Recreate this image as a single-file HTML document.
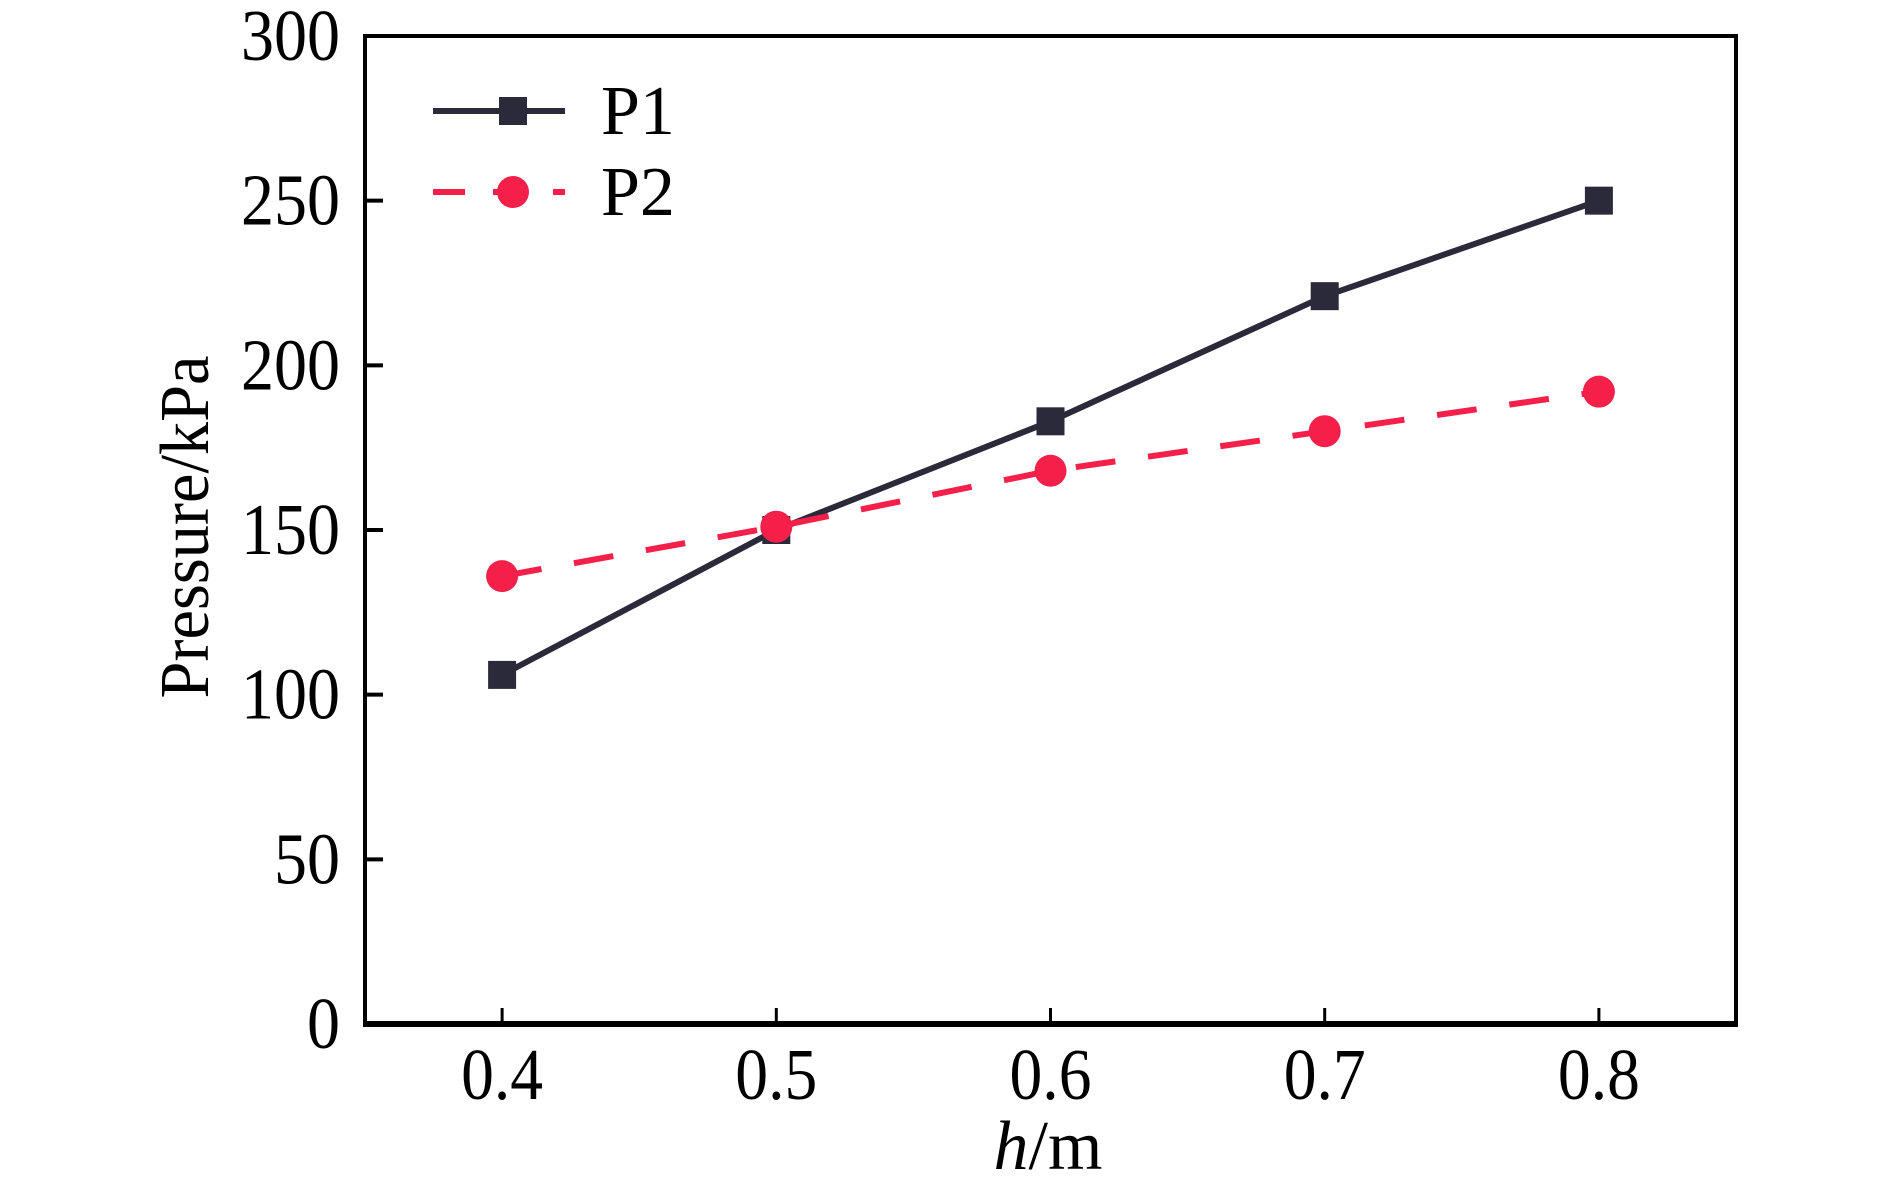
<!DOCTYPE html>
<html><head><meta charset="utf-8"><style>
html,body{margin:0;padding:0;background:#fff;}
svg{display:block;font-family:"Liberation Serif",serif;}
</style></head><body>
<svg id="chart" width="1890" height="1193" viewBox="0 0 1890 1193">
<g id="axes"></g>
<g id="series"></g>
<g id="legend">
  <line x1="433" y1="111" x2="565" y2="111" stroke="#2b2a3a" stroke-width="6"/>
  <rect x="499" y="97" width="28" height="28" fill="#2b2a3a"/>
  <text x="601" y="134" font-size="70">P1</text>
  <line x1="433" y1="192" x2="565" y2="192" stroke="#f5204a" stroke-width="6" stroke-dasharray="32,28"/>
  <circle cx="513" cy="192" r="16" fill="#f5204a"/>
  <text x="601" y="215" font-size="70">P2</text>
</g>
<text x="1048" y="1169" font-size="70" text-anchor="middle"><tspan font-style="italic">h</tspan>/m</text>
<text transform="translate(208,527) rotate(-90)" font-size="70" text-anchor="middle" textLength="343" lengthAdjust="spacingAndGlyphs">Pressure/kPa</text>
</svg>
<script>
const categories = [0.4, 0.5, 0.6, 0.7, 0.8];
const p1Values = [106, 150, 183, 221, 250];
const p2Values = [136, 151, 168, 180, 192];
const xTicks = ["0.4", "0.5", "0.6", "0.7", "0.8"];
const yTicks = [0, 50, 100, 150, 200, 250, 300];

const L = 365, R = 1736, T = 36, B = 1024;
const xMin = 0.35, xMax = 0.85, yMin = 0, yMax = 300;
function xs(v){ return L + (v - xMin) / (xMax - xMin) * (R - L); }
function ys(v){ return B - (v - yMin) / (yMax - yMin) * (B - T); }
const NS = "http://www.w3.org/2000/svg";
function mk(tag, attrs, parent){
  const el = document.createElementNS(NS, tag);
  for (const k in attrs) el.setAttribute(k, attrs[k]);
  parent.appendChild(el);
  return el;
}
const axes = document.getElementById('axes');
const series = document.getElementById('series');

const frame = mk('rect', {x:L, y:T, width:R-L, height:B-T, fill:'none', stroke:'#000', 'stroke-width':4}, axes);


const xAxis = mk('line', {x1:L-2, y1:B, x2:R+2, y2:B, stroke:'#000', 'stroke-width':6}, axes);



yTicks.forEach(v => {
  const y = ys(v);
  if (v !== 0 && v !== 300) {
    const t = mk('line', {x1:L, y1:y, x2:L+18, y2:y, stroke:'#000', 'stroke-width':4}, axes);
    
    
  }
  const s = String(v);
  const lb = mk('text', {x:340, y:y+24, 'font-size':73, 'text-anchor':'end', textLength: s.length*33, lengthAdjust:'spacingAndGlyphs'}, axes);
  lb.textContent = s;
  
  
});

categories.forEach((c, i) => {
  const x = xs(c);
  const t = mk('line', {x1:x, y1:B, x2:x, y2:B-16, stroke:'#000', 'stroke-width':3}, axes);
  
  
  const lb = mk('text', {x:x, y:1099, 'font-size':73, 'text-anchor':'middle', textLength:82, lengthAdjust:'spacingAndGlyphs'}, axes);
  lb.textContent = xTicks[i];
  
  
});

const p1Pts = categories.map((c, i) => xs(c) + ',' + ys(p1Values[i])).join(' ');
const p2Pts = categories.map((c, i) => xs(c) + ',' + ys(p2Values[i])).join(' ');
const l1 = mk('polyline', {points:p1Pts, fill:'none', stroke:'#2b2a3a', 'stroke-width':6}, series);


categories.forEach((c, i) => {
  const r = mk('rect', {x:xs(c)-14, y:ys(p1Values[i])-14, width:28, height:28, fill:'#2b2a3a'}, series);
  
  
});
const l2 = mk('polyline', {points:p2Pts, fill:'none', stroke:'#f5204a', 'stroke-width':6, 'stroke-dasharray':'40,33'}, series);


categories.forEach((c, i) => {
  const ci = mk('circle', {cx:xs(c), cy:ys(p2Values[i]), r:16, fill:'#f5204a'}, series);
  
  
});
</script>
</body></html>
